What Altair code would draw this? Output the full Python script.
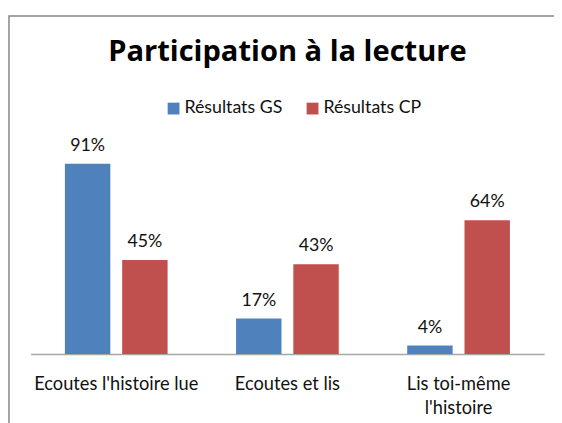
import altair as alt
import pandas as pd

categories = ["Ecoutes l'histoire lue", "Ecoutes et lis", "Lis toi-même\nl'histoire"]
series = ["Résultats GS", "Résultats CP"]
values_gs = [0.91, 0.17, 0.04]
values_cp = [0.45, 0.43, 0.64]
colors = ["#4F81BD", "#C0504D"]

rows = []
for c, g, p in zip(categories, values_gs, values_cp):
    rows.append({"cat": c, "series": series[0], "value": g})
    rows.append({"cat": c, "series": series[1], "value": p})
df = pd.DataFrame(rows)

FONT = "Lato"
TXT = "#111111"

x_enc = alt.X(
    "cat:N",
    sort=categories,
    scale=alt.Scale(paddingInner=0.4, paddingOuter=0.2),
    axis=alt.Axis(
        title=None,
        labelAngle=0,
        ticks=False,
        domainColor="#a6a6a6",
        domainWidth=1.5,
        labelFont=FONT,
        labelFontSize=18.5,
        labelColor=TXT,
        labelPadding=21,
        labelLineHeight=24,
        labelLimit=400,
        labelExpr="split(datum.label, '\\n')",
    ),
)
xo_enc = alt.XOffset("series:N", sort=series, scale=alt.Scale(paddingInner=0.207, paddingOuter=0))
y_enc = alt.Y("value:Q", scale=alt.Scale(domain=[0, 1]), axis=None)

base = alt.Chart(df)

bars = base.mark_bar().encode(
    x=x_enc,
    xOffset=xo_enc,
    y=y_enc,
    color=alt.Color(
        "series:N",
        sort=series,
        scale=alt.Scale(domain=series, range=colors),
        legend=alt.Legend(
            title=None,
            orient="none",
            direction="horizontal",
            legendX=136,
            legendY=-46,
            symbolType="square",
            symbolSize=144,
            symbolStrokeWidth=0,
            symbolOpacity=1,
            labelFont=FONT,
            labelFontSize=18,
            labelColor=TXT,
            labelOffset=2,
            columnPadding=21,
            padding=0,
        ),
    ),
)

labels = base.mark_text(baseline="alphabetic", dy=-13, fontSize=18, font=FONT, color=TXT).encode(
    x=x_enc,
    xOffset=xo_enc,
    y=y_enc,
    text=alt.Text("value:Q", format=".0%"),
)

border = alt.Chart(pd.DataFrame({"a": [0]})).mark_rect(
    fillOpacity=0, stroke="#868686", strokeWidth=1.5
).encode(
    x=alt.value(-22), x2=alt.value(700), y=alt.value(-131), y2=alt.value(600)
)

chart = alt.layer(border, bars, labels).properties(
    width=521,
    height=212,
    autosize=alt.AutoSizeParams(type="none"),
    padding={"left": 23, "top": 136, "right": 10, "bottom": 67},
    title=alt.TitleParams(
        "Participation à la lecture",
        font="Open Sans",
        fontSize=29.5,
        fontWeight="bold",
        color="#000000",
        anchor="middle",
        offset=-53,
    ),
).configure_view(strokeWidth=0)

chart.save("out.html", embed_options={"renderer": "svg", "actions": False})
